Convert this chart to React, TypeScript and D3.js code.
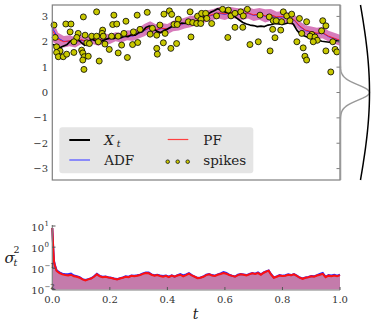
import React from 'react';
import * as d3 from 'd3';

const W = 374;
const H = 328;

// hidden state X_t, sampled every 1/80
const xtVals = [
  1.90, 1.84, 1.76, 1.82, 1.88, 2.02, 2.08, 2.12, 1.98, 1.86,
  2.02, 2.10, 2.04, 1.98, 2.04, 2.10, 2.16, 2.12, 2.19, 2.16,
  2.22, 2.20, 2.28, 2.26, 2.36, 2.40, 2.56, 2.62, 2.54, 2.42,
  2.36, 2.44, 2.50, 2.58, 2.66, 2.70, 2.74, 2.72, 2.78, 2.76,
  2.80, 2.86, 2.96, 3.04, 3.16, 3.22, 3.30, 3.24, 3.18, 3.14,
  3.08, 2.96, 2.86, 2.76, 2.70, 2.66, 2.64, 2.60, 2.62, 2.60,
  2.66, 2.68, 2.72, 2.70, 2.68, 2.72, 2.76, 2.70, 2.46, 2.30,
  2.24, 2.18, 2.12, 2.08, 2.06, 2.02, 2.00, 1.98, 2.02, 2.04,
  2.00,
];

// filter means, sampled every 0.02
const pfMean = [
  2.45, 2.10, 2.00, 2.04, 1.98, 2.08, 2.02, 2.10, 2.06, 2.14,
  2.10, 2.20, 2.16, 2.26, 2.24, 2.34, 2.46, 2.58, 2.48, 2.54,
  2.50, 2.62, 2.66, 2.74, 2.80, 2.84, 2.92, 3.02, 3.08, 3.14,
  3.10, 3.16, 3.12, 3.08, 3.14, 3.06, 3.10, 3.02, 3.06, 2.98,
  3.00, 2.92, 2.88, 2.62, 2.46, 2.40, 2.34, 2.36, 2.22, 2.14,
  2.06,
];
const adfMean = [
  2.55, 2.15, 2.02, 2.02, 1.96, 2.06, 2.00, 2.08, 2.04, 2.12,
  2.08, 2.18, 2.14, 2.24, 2.22, 2.32, 2.44, 2.56, 2.46, 2.52,
  2.48, 2.60, 2.64, 2.72, 2.78, 2.82, 2.90, 3.00, 3.06, 3.12,
  3.08, 3.14, 3.10, 3.06, 3.12, 3.04, 3.08, 3.00, 3.04, 2.96,
  2.98, 2.90, 2.86, 2.60, 2.44, 2.38, 2.32, 2.34, 2.20, 2.12,
  2.04,
];

// spike times and marks [t, value]
const spikes: [number, number][] = [
  [0.006, 2.66], [0.047, 2.70], [0.065, 2.70], [0.108, 2.98], [0.154, 3.18],
  [0.214, 3.05], [0.295, 3.05], [0.330, 3.16], [0.210, 2.68], [0.224, 2.70],
  [0.256, 2.81], [0.062, 2.39], [0.090, 2.33], [0.175, 2.46], [0.173, 2.33],
  [0.282, 2.39], [0.305, 2.49], [0.010, 2.17], [0.085, 2.17], [0.114, 2.26],
  [0.137, 2.22], [0.154, 2.22], [0.177, 2.22], [0.206, 2.22], [0.229, 2.22],
  [0.249, 2.33], [0.075, 2.00], [0.120, 1.96], [0.129, 1.93], [0.160, 2.00],
  [0.183, 1.91], [0.241, 1.87], [0.279, 1.89], [0.297, 1.97], [0.015, 1.80],
  [0.027, 1.64], [0.015, 1.58], [0.021, 1.41], [0.038, 1.41], [0.050, 1.51],
  [0.075, 1.58], [0.102, 1.67], [0.106, 1.56], [0.111, 1.41], [0.106, 1.28],
  [0.125, 1.43], [0.163, 1.24], [0.198, 1.70], [0.229, 1.56], [0.261, 1.38],
  [0.110, 0.91],
  [0.388, 3.09], [0.407, 3.22], [0.415, 3.08], [0.479, 3.18], [0.438, 2.89],
  [0.423, 2.68], [0.434, 2.68], [0.374, 2.66], [0.505, 3.01], [0.519, 3.12],
  [0.533, 3.12], [0.517, 2.88], [0.537, 2.92], [0.571, 3.02], [0.592, 3.28],
  [0.612, 3.25], [0.621, 3.02], [0.635, 3.12], [0.655, 3.18], [0.664, 3.02],
  [0.473, 2.79], [0.488, 2.76], [0.502, 2.72], [0.516, 2.72], [0.554, 2.72],
  [0.348, 2.53], [0.363, 2.26], [0.340, 2.30], [0.392, 2.33], [0.482, 2.19],
  [0.635, 2.57], [0.662, 2.57], [0.610, 2.17], [0.386, 1.96], [0.432, 1.93],
  [0.363, 1.74], [0.412, 1.74], [0.365, 1.51],
  [0.678, 3.28], [0.722, 3.05], [0.754, 2.98], [0.768, 2.83], [0.803, 3.18],
  [0.815, 3.02], [0.832, 3.09], [0.826, 2.83], [0.797, 2.79], [0.778, 2.83],
  [0.859, 2.92], [0.884, 2.79], [0.766, 2.49], [0.794, 2.46], [0.774, 2.16],
  [0.867, 2.33], [0.940, 2.83], [0.951, 2.63], [0.936, 2.43], [0.902, 2.29],
  [0.896, 2.22], [0.913, 2.19], [0.921, 2.06], [0.907, 2.00], [0.975, 2.00],
  [0.983, 1.70], [0.989, 1.60], [0.951, 1.64], [0.687, 1.89], [0.716, 2.00],
  [0.757, 1.64], [0.850, 2.00], [0.872, 1.76], [0.878, 1.43], [0.884, 1.28],
  [0.968, 0.81],
];

// posterior variance [t, PF, ADF]
const variance: [number, number, number][] = [
  [0.000, 8.0, 8.0], [0.003, 1.0, 1.1], [0.006, 0.20, 0.22], [0.010, 0.12, 0.13],
  [0.015, 0.075, 0.080], [0.025, 0.060, 0.064], [0.035, 0.052, 0.056], [0.045, 0.048, 0.052],
  [0.055, 0.046, 0.052], [0.065, 0.050, 0.056], [0.075, 0.042, 0.046], [0.085, 0.040, 0.042],
  [0.095, 0.036, 0.038], [0.105, 0.030, 0.031], [0.115, 0.027, 0.028], [0.125, 0.030, 0.031],
  [0.135, 0.033, 0.034], [0.145, 0.040, 0.042], [0.155, 0.052, 0.055], [0.165, 0.042, 0.044],
  [0.175, 0.038, 0.040], [0.185, 0.040, 0.041], [0.195, 0.037, 0.038], [0.205, 0.035, 0.036],
  [0.215, 0.032, 0.033], [0.225, 0.030, 0.031], [0.235, 0.033, 0.034], [0.245, 0.036, 0.037],
  [0.255, 0.040, 0.042], [0.265, 0.038, 0.040], [0.275, 0.044, 0.046], [0.285, 0.042, 0.045],
  [0.295, 0.045, 0.047], [0.305, 0.048, 0.050], [0.315, 0.055, 0.058], [0.325, 0.060, 0.064],
  [0.335, 0.058, 0.063], [0.345, 0.050, 0.052], [0.355, 0.045, 0.047], [0.365, 0.048, 0.050],
  [0.375, 0.043, 0.046], [0.385, 0.040, 0.044], [0.395, 0.044, 0.046], [0.405, 0.038, 0.040],
  [0.415, 0.045, 0.047], [0.425, 0.040, 0.041], [0.435, 0.046, 0.048], [0.445, 0.050, 0.054],
  [0.455, 0.042, 0.046], [0.465, 0.048, 0.052], [0.475, 0.056, 0.060], [0.485, 0.046, 0.048],
  [0.495, 0.040, 0.041], [0.505, 0.034, 0.035], [0.515, 0.036, 0.037], [0.525, 0.040, 0.041],
  [0.535, 0.048, 0.050], [0.545, 0.052, 0.054], [0.555, 0.046, 0.048], [0.565, 0.044, 0.045],
  [0.575, 0.050, 0.052], [0.585, 0.054, 0.058], [0.595, 0.060, 0.066], [0.605, 0.056, 0.060],
  [0.615, 0.048, 0.050], [0.625, 0.044, 0.045], [0.635, 0.040, 0.041], [0.645, 0.048, 0.050],
  [0.655, 0.052, 0.054], [0.665, 0.050, 0.051], [0.675, 0.046, 0.048], [0.685, 0.052, 0.054],
  [0.695, 0.058, 0.060], [0.705, 0.054, 0.056], [0.715, 0.060, 0.064], [0.725, 0.050, 0.052],
  [0.735, 0.062, 0.064], [0.745, 0.072, 0.074], [0.752, 0.078, 0.080], [0.760, 0.052, 0.054],
  [0.770, 0.036, 0.037], [0.780, 0.040, 0.042], [0.790, 0.046, 0.048], [0.800, 0.043, 0.045],
  [0.810, 0.045, 0.047], [0.820, 0.050, 0.052], [0.830, 0.047, 0.048], [0.840, 0.052, 0.054],
  [0.850, 0.044, 0.045], [0.860, 0.036, 0.037], [0.870, 0.032, 0.033], [0.880, 0.036, 0.037],
  [0.890, 0.038, 0.039], [0.900, 0.042, 0.043], [0.910, 0.040, 0.042], [0.920, 0.046, 0.048],
  [0.930, 0.050, 0.054], [0.940, 0.055, 0.060], [0.950, 0.038, 0.040], [0.960, 0.045, 0.048],
  [0.970, 0.042, 0.046], [0.980, 0.046, 0.050], [0.990, 0.042, 0.045], [1.000, 0.048, 0.050],
];

const yTicks = [-3, -2, -1, 0, 1, 2, 3];
const tTicks = [0, 0.2, 0.4, 0.6, 0.8, 1.0];
const logTicks = [1e-2, 1e-1, 1e0, 1e1];
const logLabels = ['-2', '-1', '0', '1'];

// narrow tuning curve and wide prior on the right edge
const tuningSd = 0.3;
const priorSd = 4;

const FONT = "'DejaVu Serif', serif";

export default function App() {
  const x = d3.scaleLinear().domain([0, 1]).range([52.3, 340]);
  const y = d3.scaleLinear().domain([-3.45, 3.45]).range([180, 5]);
  const yv = d3.scaleLog().domain([1e-2, 1e1]).range([289.5, 226]);

  const xtT = xtVals.map((_, i) => i / (xtVals.length - 1));
  const pfT = pfMean.map((_, i) => i / (pfMean.length - 1));

  const varAt = (t: number) => {
    const i = d3.bisector((d: [number, number, number]) => d[0]).left(variance, t);
    if (i <= 0) return variance[0][1];
    if (i >= variance.length) return variance[variance.length - 1][1];
    const a = variance[i - 1], b = variance[i];
    const f = (t - a[0]) / (b[0] - a[0]);
    return a[1] + f * (b[1] - a[1]);
  };

  const xtPath = d3.line<number>().x((_, i) => x(xtT[i])).y(d => y(d))(xtVals) || '';
  const pfPath = d3.line<number>().x((_, i) => x(pfT[i])).y(d => y(d))(pfMean) || '';
  const adfPath = d3.line<number>().x((_, i) => x(pfT[i])).y(d => y(d))(adfMean) || '';
  const bandPath = d3.area<number>()
    .x((_, i) => x(pfT[i]))
    .y0((d, i) => y(d - Math.min(Math.sqrt(varAt(pfT[i])), 0.45)))
    .y1((d, i) => y(d + Math.min(Math.sqrt(varAt(pfT[i])), 0.45)))(pfMean) || '';

  const varFill = d3.area<[number, number, number]>()
    .x(d => x(d[0])).y0(yv(1e-2)).y1(d => yv(Math.max(d[1], d[2])))(variance) || '';
  const pfVarLine = d3.line<[number, number, number]>().x(d => x(d[0])).y(d => yv(d[1]))(variance) || '';
  const adfVarLine = d3.line<[number, number, number]>().x(d => x(d[0])).y(d => yv(d[2]))(variance) || '';

  const vGrid = d3.range(-3.45, 3.4501, 0.03);
  const gaussPath = (sd: number) =>
    d3.line<number>().x(v => 340.5 + 29 * Math.exp(-(v * v) / (2 * sd * sd))).y(v => y(v))(vGrid) || '';

  return (
    <svg width={W} height={H} style={{ position: 'absolute', left: 0, top: 0, background: '#fff' }} fontFamily={FONT}>
      {/* top panel */}
      <path d={bandPath} fill="#cd5aaa" fillOpacity={0.8} stroke="none" />
      <path d={adfPath} fill="none" stroke="#3030ff" strokeWidth={1} />
      <path d={pfPath} fill="none" stroke="#ff2020" strokeWidth={1} />
      <path d={xtPath} fill="none" stroke="#000" strokeWidth={1.7} strokeLinejoin="round" />
      {spikes.map((s, i) => (
        <circle key={i} cx={x(s[0])} cy={y(s[1])} r={3} fill="#c8c800" stroke="#000" strokeWidth={0.8} />
      ))}
      <rect x={52.3} y={5} width={287.7} height={175} fill="none" stroke="#7f7f7f" strokeWidth={1.2} />
      {yTicks.map(v => (
        <g key={v}>
          <line x1={340} x2={336.5} y1={y(v)} y2={y(v)} stroke="#7f7f7f" strokeWidth={1} />
          <text x={48} y={y(v)} dy="0.35em" textAnchor="end" fontSize={10} fill="#333">
            {v < 0 ? '\u2212' + Math.abs(v) : String(v)}
          </text>
        </g>
      ))}

      {/* right-hand densities */}
      <path d={gaussPath(tuningSd)} fill="none" stroke="#999" strokeWidth={1.5} />
      <path d={gaussPath(priorSd)} fill="none" stroke="#000" strokeWidth={1.5} />

      {/* legend */}
      <rect x={59.3} y={127.3} width={194} height={46} rx={3} fill="#e5e5e5" />
      <line x1={69.3} x2={90} y1={140} y2={140} stroke="#000" strokeWidth={2} />
      <text x={104.3} y={144.5} fontSize={13.5} fontStyle="italic" fill="#222">X</text>
      <text x={116.8} y={147} fontSize={9.5} fontStyle="italic" fill="#222">t</text>
      <line x1={69.3} x2={90} y1={160} y2={160} stroke="#6b6bff" strokeWidth={1.5} />
      <text x={104.3} y={165} fontSize={13.5} fill="#222">ADF</text>
      <line x1={167.7} x2={188.3} y1={139.5} y2={139.5} stroke="#ff4040" strokeWidth={1.2} />
      <text x={203.3} y={144.5} fontSize={13.5} fill="#222">PF</text>
      {[167.7, 177.7, 187.7].map(cx => (
        <circle key={cx} cx={cx} cy={161.7} r={1.8} fill="#c8c800" stroke="#000" strokeWidth={0.7} />
      ))}
      <text x={203.3} y={165} fontSize={13.5} fill="#222">spikes</text>

      {/* bottom panel */}
      <path d={varFill} fill="#c47bab" stroke="none" />
      <path d={adfVarLine} fill="none" stroke="#2a2aff" strokeWidth={2} />
      <path d={pfVarLine} fill="none" stroke="#ff1010" strokeWidth={2} />
      <line x1={52.3} x2={52.3} y1={225} y2={290} stroke="#7f7f7f" strokeWidth={1.2} />
      <line x1={52.3} x2={340} y1={290} y2={290} stroke="#7f7f7f" strokeWidth={1.2} />
      {logTicks.map((v, i) => (
        <g key={v}>
          <line x1={52.3} x2={55.5} y1={yv(v)} y2={yv(v)} stroke="#555" strokeWidth={1} />
          <text x={44} y={yv(v)} dy="0.45em" textAnchor="end" fontSize={10} fill="#333">10</text>
          <text x={44.5} y={yv(v)} dy="-0.05em" textAnchor="start" fontSize={7} fill="#333">
            {logLabels[i].replace('-', '\u2212')}
          </text>
        </g>
      ))}
      {tTicks.map(t => (
        <g key={t}>
          <line x1={x(t)} x2={x(t)} y1={290} y2={287} stroke="#555" strokeWidth={1} />
          <text x={x(t)} y={303} textAnchor="middle" fontSize={10} fill="#333">{t.toFixed(1)}</text>
        </g>
      ))}
      <text x={195.5} y={319} textAnchor="middle" fontSize={14} fontStyle="italic" fill="#222">t</text>
      <text x={4.5} y={263} fontSize={15} fontStyle="italic" fill="#222">σ</text>
      <text x={13.5} y={253} fontSize={9.5} fill="#222">2</text>
      <text x={13.5} y={266} fontSize={9.5} fontStyle="italic" fill="#222">t</text>
    </svg>
  );
}
